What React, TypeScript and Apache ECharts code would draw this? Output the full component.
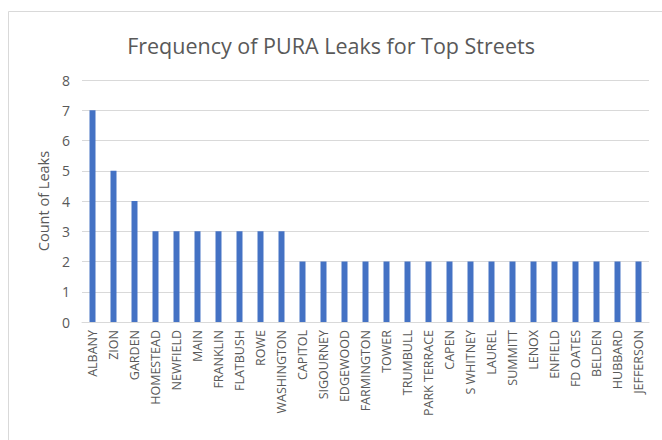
import React, { useEffect, useRef } from "react";
import * as echarts from "echarts";

const streets = [
  "ALBANY", "ZION", "GARDEN", "HOMESTEAD", "NEWFIELD", "MAIN", "FRANKLIN", "FLATBUSH", "ROWE", "WASHINGTON",
  "CAPITOL", "SIGOURNEY", "EDGEWOOD", "FARMINGTON", "TOWER", "TRUMBULL", "PARK TERRACE", "CAPEN", "S WHITNEY",
  "LAUREL", "SUMMITT", "LENOX", "ENFIELD", "FD OATES", "BELDEN", "HUBBARD", "JEFFERSON",
];
const leakCounts = [7, 5, 4, 3, 3, 3, 3, 3, 3, 3, 2, 2, 2, 2, 2, 2, 2, 2, 2, 2, 2, 2, 2, 2, 2, 2, 2];
const titleText = "Frequency of PURA Leaks for Top Streets";
const yAxisTitle = "Count of Leaks";

export default function App() {
  const ref = useRef<HTMLDivElement>(null);
  useEffect(() => {
    if (!ref.current) return;
    const chart = echarts.init(ref.current, null, { renderer: "svg" });
    const font = "'Open Sans', 'Noto Sans', sans-serif";
    chart.setOption({
      animation: false,
      backgroundColor: "#ffffff",
      textStyle: { fontFamily: font },
      title: {
        text: titleText,
        left: "center",
        top: 29,
        textStyle: { fontSize: 21.5, fontWeight: "normal", color: "#595959", fontFamily: font },
      },
      graphic: [
        {
          type: "rect",
          shape: { x: 8.5, y: 11.5, width: 700, height: 500 },
          style: { fill: "none", stroke: "#d9d9d9", lineWidth: 1 },
          silent: true,
        },
      ],
      grid: { left: 82, right: 13, top: 80, bottom: 118, containLabel: false },
      xAxis: {
        type: "category",
        data: streets,
        axisLine: { lineStyle: { color: "#d9d9d9" } },
        axisTick: { show: false },
        axisLabel: { rotate: 90, interval: 0, color: "#595959", fontSize: 12.5, margin: 8, fontFamily: font },
      },
      yAxis: {
        type: "value",
        min: 0,
        max: 8,
        interval: 1,
        name: yAxisTitle,
        nameLocation: "middle",
        nameGap: 30,
        nameTextStyle: { color: "#595959", fontSize: 14.5, fontFamily: font },
        axisLine: { show: false },
        axisTick: { show: false },
        axisLabel: { color: "#595959", fontSize: 14, margin: 12, fontFamily: font },
        splitLine: { lineStyle: { color: "#d9d9d9" } },
      },
      series: [
        {
          type: "bar",
          data: leakCounts,
          barWidth: 6,
          itemStyle: { color: "#4472c4" },
        },
      ],
    });
    return () => chart.dispose();
  }, []);
  return <div ref={ref} style={{ position: "fixed", left: 0, top: 0, width: 662, height: 440 }} />;
}
